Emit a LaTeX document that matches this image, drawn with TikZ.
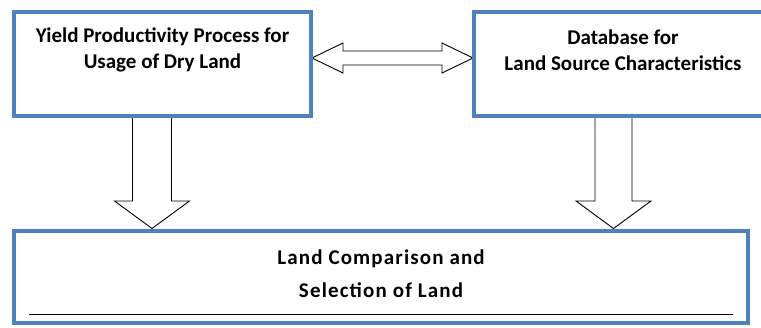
\documentclass[tikz,border=0pt]{standalone}
\usepackage{fontspec}
\setmainfont{Carlito}
\usetikzlibrary{calc,backgrounds}
\definecolor{boxblue}{HTML}{4F81BD}
\begin{document}
\begin{tikzpicture}[x=1pt,y=-1pt,
 box/.style={draw=boxblue,line width=3.5pt,fill=white,inner sep=0pt,outer sep=0pt},
 lbl/.style={font=\bfseries\fontsize{21}{26}\selectfont,align=center,inner sep=0pt},
 lblwide/.style={font=\bfseries\fontsize{21}{26}\selectfont\addfontfeature{LetterSpace=5.5},align=center,inner sep=0pt},
 blk/.style={draw=black,line width=0.9pt,fill=white,line join=miter}]
\useasboundingbox (0,0) rectangle (761,327);
\node[box,minimum width=297pt,minimum height=104pt] (b1) at (162.5,64) {};
\node[box,minimum width=300pt,minimum height=104pt] (b2) at (624,64) {};
\node[box,minimum width=734pt,minimum height=92pt] (b3) at (381,277) {};
\node[lbl] (t1) at ($(b1.center)+(0,-14)$) {Yield Productivity Process for\\Usage of Dry Land};
\node[lbl] (t2) at ($(b2.center)+(-1,-14)$) {Database for\\Land Source Characteristics};
\node[lblwide] (t3) at ($(b3.center)+(0,-3.5)$) {Land Comparison and\\[7pt]Selection of Land};
\draw[line width=1pt] ([shift={(15pt,9pt)}]b3.south west) -- ([shift={(-15pt,9pt)}]b3.south east);
\begin{scope}[on background layer]
\coordinate (la0) at ($(b1.south)+(-10.5,0)$);
\coordinate (la1) at (la0 |- b3.north);
\draw[blk] let \p1=(la0),\p2=(la1) in
  (\x1-19.5pt,\y1) -- (\x1+19.5pt,\y1) -- (\x1+19.5pt,\y2+30pt) -- (\x1+37.5pt,\y2+30pt)
  -- (\x1,\y2+2.5pt) -- (\x1-37.5pt,\y2+30pt) -- (\x1-19.5pt,\y2+30pt) -- cycle;
\coordinate (ra0) at ($(b2.south)+(-10.5,0)$);
\coordinate (ra1) at (ra0 |- b3.north);
\draw[blk] let \p1=(ra0),\p2=(ra1) in
  (\x1-18.5pt,\y1) -- (\x1+18.5pt,\y1) -- (\x1+18.5pt,\y2+30pt) -- (\x1+37.5pt,\y2+30pt)
  -- (\x1,\y2+2.5pt) -- (\x1-37.5pt,\y2+30pt) -- (\x1-18.5pt,\y2+30pt) -- cycle;
\coordinate (d0) at ($(b1.east)+(0,-6)$);
\coordinate (d1) at (d0 -| b2.west);
\draw[blk] let \p1=(d0),\p2=(d1) in
  (\x1+1pt,\y1) -- (\x1+32pt,\y1+15pt) -- (\x1+32pt,\y1+7pt) -- (\x2-32pt,\y1+7pt)
  -- (\x2-32pt,\y1+15pt) -- (\x2-1pt,\y1) -- (\x2-32pt,\y1-15pt) -- (\x2-32pt,\y1-7pt)
  -- (\x1+32pt,\y1-7pt) -- (\x1+32pt,\y1-15pt) -- cycle;
\end{scope}
\end{tikzpicture}
\end{document}
